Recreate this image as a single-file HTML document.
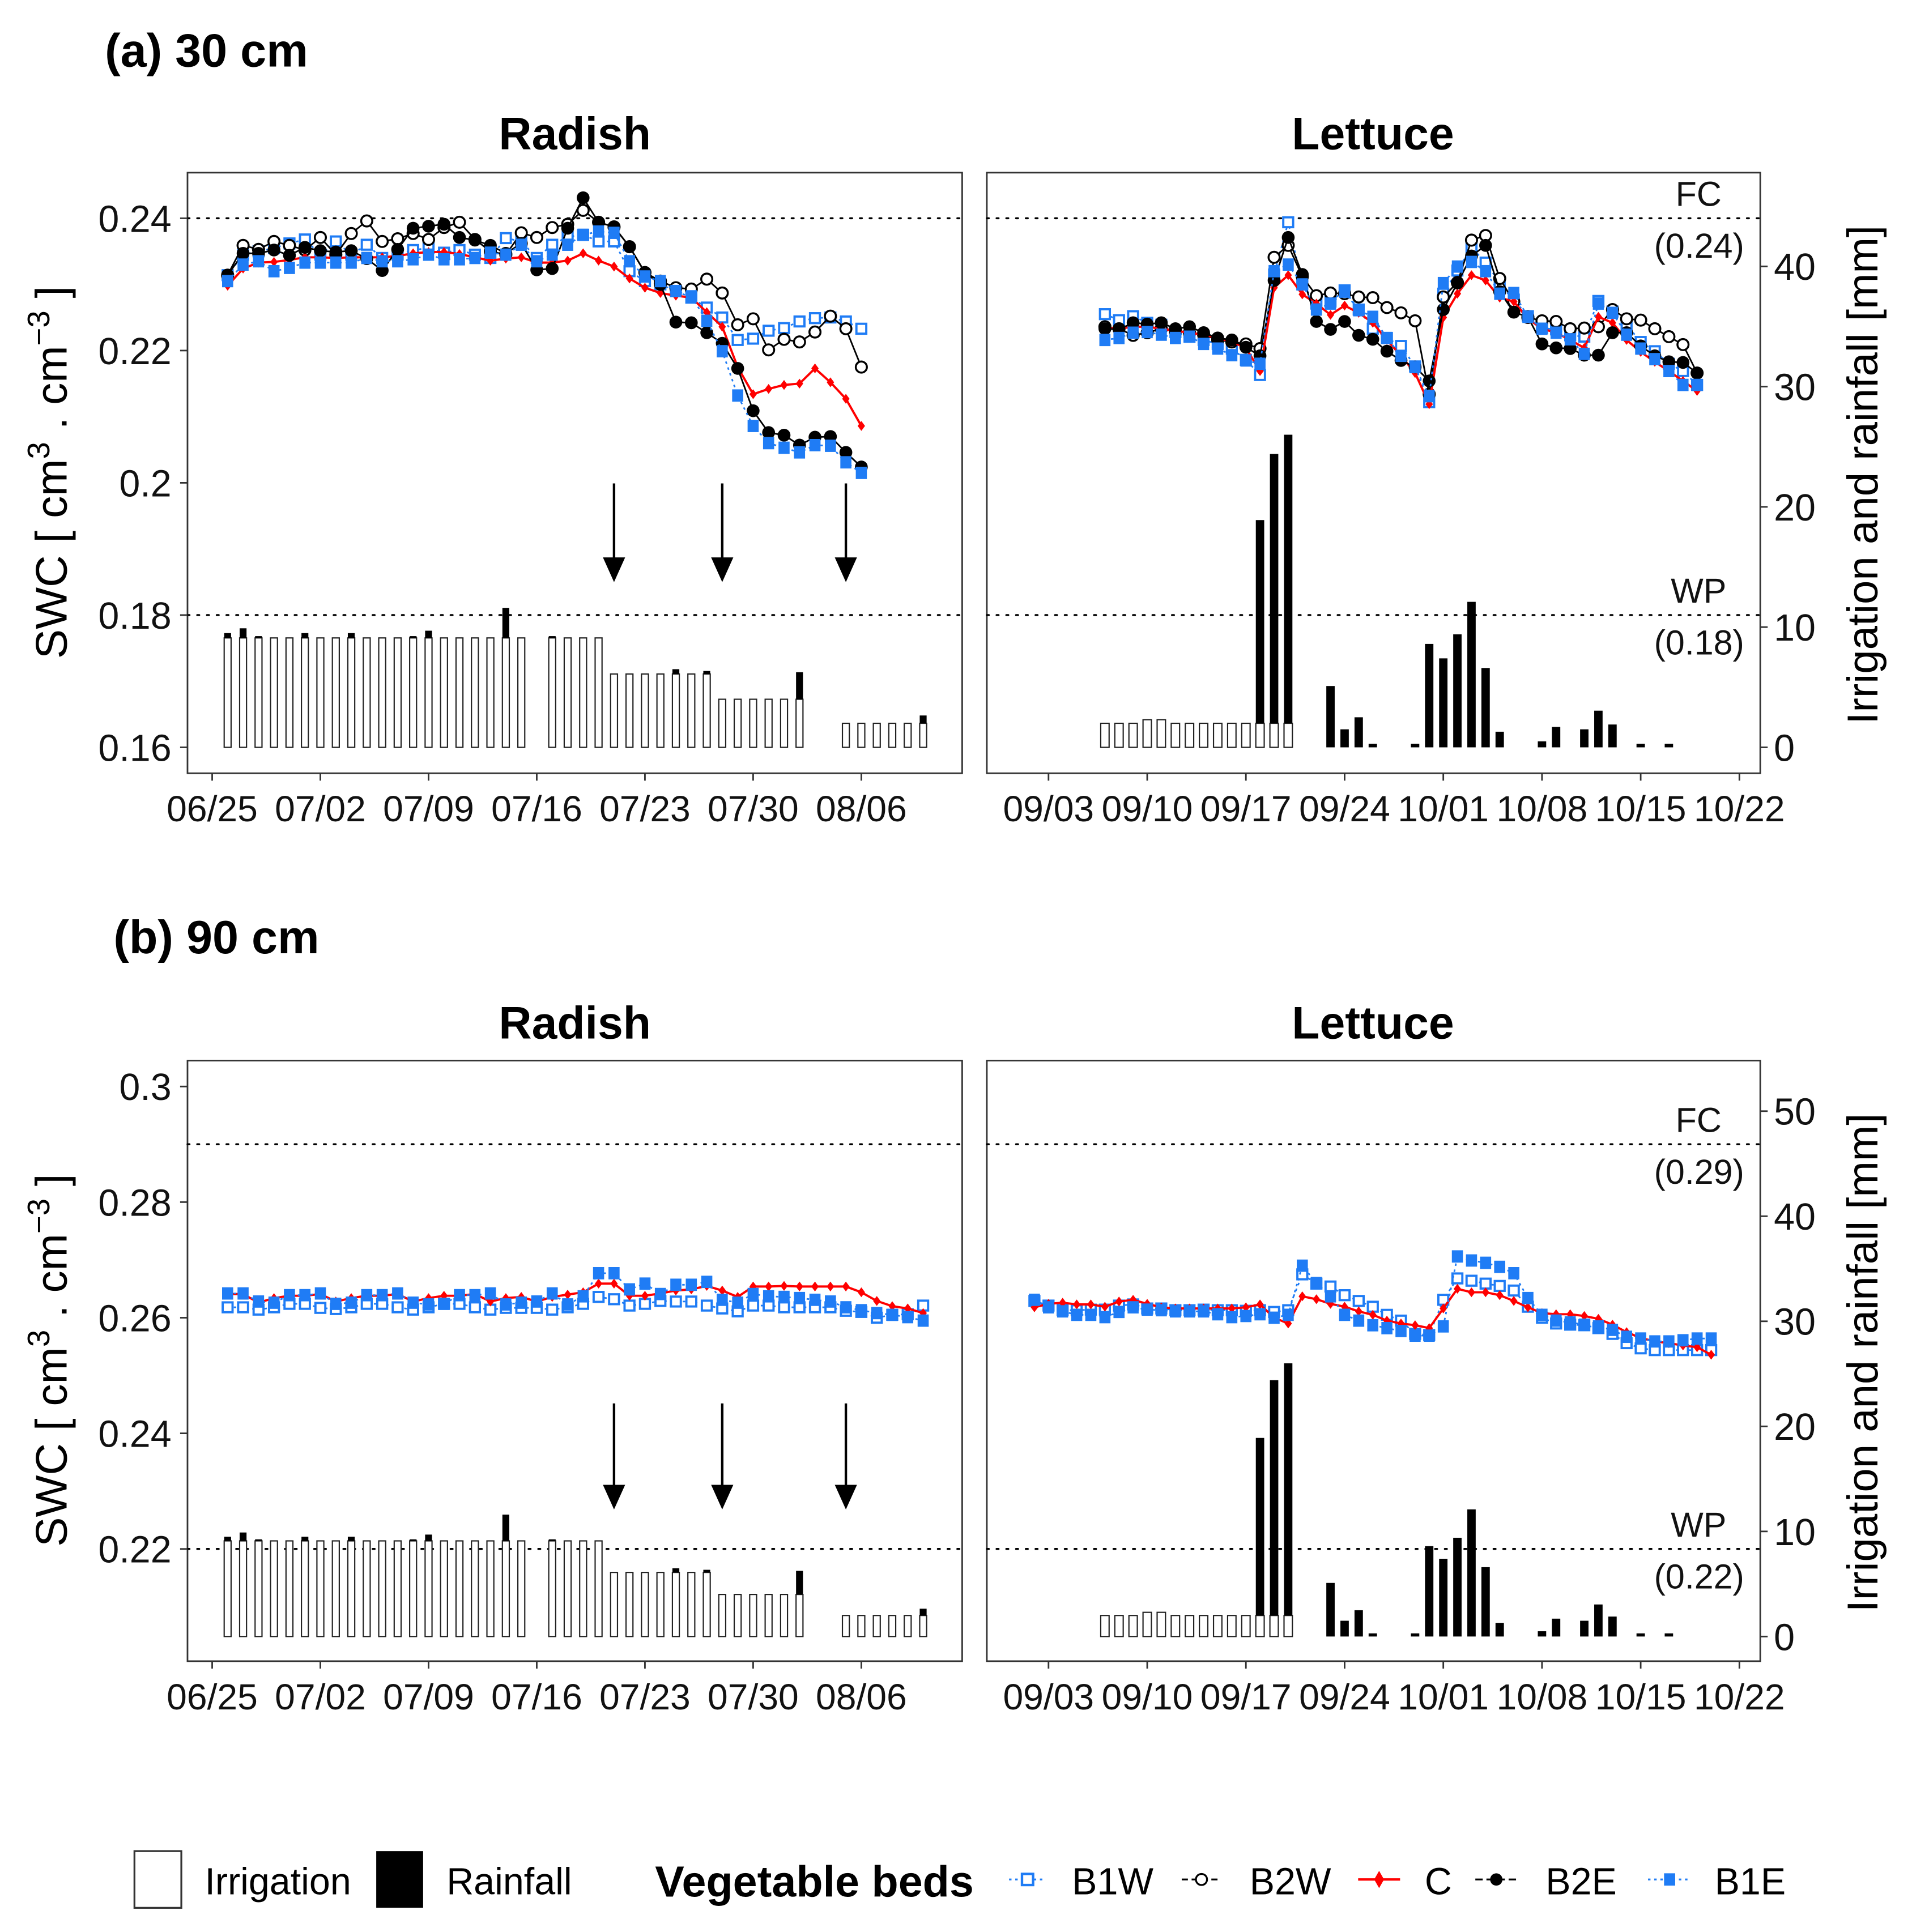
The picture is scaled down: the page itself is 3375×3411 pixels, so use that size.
<!DOCTYPE html>
<html><head><meta charset="utf-8"><style>
html,body{margin:0;padding:0;background:#fff}
svg{display:block;font-family:"Liberation Sans",Arial,sans-serif}
</style></head><body>
<svg id="chart" width="3375" height="3411" viewBox="0 0 1550 1566.6" preserveAspectRatio="none" xmlns="http://www.w3.org/2000/svg">
<rect x="0" y="0" width="1550" height="1566.6" fill="#fff"/>
<text x="85" y="54" font-size="38" font-weight="bold">(a) 30 cm</text>
<text x="92" y="773" font-size="38" font-weight="bold">(b) 90 cm</text>
<text x="466" y="121" font-size="37" font-weight="bold" text-anchor="middle">Radish</text>
<text x="1113" y="121" font-size="37" font-weight="bold" text-anchor="middle">Lettuce</text>
<text x="466" y="842" font-size="37" font-weight="bold" text-anchor="middle">Radish</text>
<text x="1113" y="842" font-size="37" font-weight="bold" text-anchor="middle">Lettuce</text>
<text transform="translate(54,383) rotate(-90)" font-size="36" text-anchor="middle">SWC [ cm<tspan dy="-14" font-size="25">3</tspan><tspan dy="14"> . cm</tspan><tspan dy="-14" font-size="25">−3</tspan><tspan dy="14"> ]</tspan></text>
<text transform="translate(54,1103) rotate(-90)" font-size="36" text-anchor="middle">SWC [ cm<tspan dy="-14" font-size="25">3</tspan><tspan dy="14"> . cm</tspan><tspan dy="-14" font-size="25">−3</tspan><tspan dy="14"> ]</tspan></text>
<text transform="translate(1522,385) rotate(-90)" font-size="35" text-anchor="middle">Irrigation and rainfall [mm]</text>
<text transform="translate(1522,1105) rotate(-90)" font-size="35" text-anchor="middle">Irrigation and rainfall [mm]</text>
<g id="plots"></g>
<g>
<rect x="109" y="1501" width="38" height="46" fill="#fff" stroke="#333" stroke-width="1.5"/>
<text x="166" y="1536" font-size="30.5">Irrigation</text>
<rect x="305" y="1501" width="38" height="46" fill="#000"/>
<text x="362" y="1536" font-size="30.5">Rainfall</text>
<text x="531" y="1538" font-size="35.5" font-weight="bold">Vegetable beds</text>
<line x1="818" y1="1524" x2="848" y2="1524" stroke="#1f7cf5" stroke-width="1.5" stroke-dasharray="2,3"/>
<rect x="828.5" y="1519.5" width="9" height="9" fill="#fff" stroke="#1f7cf5" stroke-width="2"/>
<text x="869" y="1536" font-size="30.5">B1W</text>
<line x1="958" y1="1524" x2="990" y2="1524" stroke="#000" stroke-width="1.5" stroke-dasharray="5,3"/>
<circle cx="974" cy="1524" r="4.5" fill="#fff" stroke="#000" stroke-width="1.5"/>
<text x="1013" y="1536" font-size="30.5">B2W</text>
<line x1="1101" y1="1524" x2="1135" y2="1524" stroke="#f00" stroke-width="2"/>
<path d="M1118 1517 L1122 1524 L1118 1531 L1114 1524 Z" fill="#f00"/>
<text x="1155" y="1536" font-size="30.5">C</text>
<line x1="1196" y1="1524" x2="1230" y2="1524" stroke="#000" stroke-width="1.5" stroke-dasharray="6,3"/>
<circle cx="1213" cy="1524" r="5" fill="#000"/>
<text x="1253" y="1536" font-size="30.5">B2E</text>
<line x1="1336" y1="1524" x2="1370" y2="1524" stroke="#1f7cf5" stroke-width="1.5" stroke-dasharray="2,3"/>
<rect x="1349" y="1519" width="9" height="10" fill="#1f7cf5"/>
<text x="1390" y="1536" font-size="30.5">B1E</text>
</g>
</svg>
<script>
// ---------- DATA ----------
const radTickLabels = ["06/25","07/02","07/09","07/16","07/23","07/30","08/06"];
const letTickLabels = ["09/03","09/10","09/17","09/24","10/01","10/08","10/15","10/22"];
const tickA_left = [0.16,0.18,0.2,0.22,0.24];
const tickA_leftLabels = ["0.16","0.18","0.2","0.22","0.24"];
const tickB_left = [0.22,0.24,0.26,0.28,0.3];
const tickB_leftLabels = ["0.22","0.24","0.26","0.28","0.3"];
const tickA_right = [0,10,20,30,40];
const tickB_right = [0,10,20,30,40,50];

const radA_firstDay = 1;
const radA_B1W = [0.2314,0.2345,0.2350,0.2355,0.2362,0.2368,0.2345,0.2365,0.2345,0.2360,0.2340,0.2345,0.2352,0.2355,0.2348,0.2352,0.2345,0.2340,0.2370,0.2365,0.2340,0.2360,0.2372,0.2375,0.2365,0.2365,0.2320,0.2305,0.2300,0.2290,0.2280,0.2265,0.2250,0.2216,0.2218,0.2230,0.2234,0.2244,0.2249,0.2250,0.2244,0.2233];
const radA_B2W = [0.2314,0.2359,0.2353,0.2365,0.2359,0.2352,0.2371,0.2345,0.2377,0.2396,0.2365,0.2369,0.2377,0.2368,0.2386,0.2394,0.2368,0.2350,0.2345,0.2378,0.2371,0.2386,0.2391,0.2412,0.2394,0.2387,0.2357,0.2318,0.2305,0.2295,0.2293,0.2308,0.2287,0.2239,0.2248,0.2201,0.2217,0.2213,0.2228,0.2252,0.2233,0.2175];
const radA_C = [0.2298,0.2324,0.2333,0.2334,0.2337,0.2341,0.2341,0.2340,0.2341,0.2341,0.2341,0.2343,0.2347,0.2349,0.2349,0.2346,0.2341,0.2336,0.2339,0.2341,0.2333,0.2333,0.2336,0.2347,0.2336,0.2327,0.2309,0.2295,0.2287,0.2283,0.2280,0.2258,0.2236,0.2175,0.2134,0.2142,0.2148,0.2150,0.2173,0.2152,0.2127,0.2086];
const radA_B2E = [0.2314,0.2347,0.2347,0.2352,0.2344,0.2356,0.2351,0.2349,0.2351,0.2339,0.2321,0.2353,0.2385,0.2388,0.2391,0.2371,0.2367,0.2359,0.2347,0.2362,0.2322,0.2324,0.2385,0.2431,0.2394,0.2387,0.2357,0.2318,0.2300,0.2243,0.2242,0.2227,0.2211,0.2173,0.2109,0.2076,0.2072,0.2057,0.2069,0.2070,0.2046,0.2024];
const radA_B1E = [0.2305,0.2330,0.2335,0.2320,0.2325,0.2333,0.2333,0.2333,0.2333,0.2340,0.2335,0.2335,0.2338,0.2345,0.2338,0.2338,0.2340,0.2348,0.2345,0.2360,0.2335,0.2345,0.2360,0.2375,0.2380,0.2378,0.2335,0.2312,0.2305,0.2290,0.2282,0.2245,0.2199,0.2132,0.2086,0.2060,0.2053,0.2046,0.2057,0.2056,0.2031,0.2015];

const letA_firstDay = 4;
const letA_B1W = [0.2255,0.2246,0.2252,0.2242,0.2239,0.2228,0.2221,0.2216,0.2210,0.2203,0.2186,0.2163,0.2315,0.2394,0.2300,0.2271,0.2274,0.2291,0.2262,0.2233,0.2219,0.2207,0.2176,0.2122,0.2286,0.2321,0.2356,0.2333,0.2303,0.2277,0.2252,0.2234,0.2232,0.2223,0.2221,0.2275,0.2259,0.2239,0.2213,0.2199,0.2180,0.2169,0.2148];
const letA_B2W = [0.2236,0.2233,0.2223,0.2227,0.2233,0.2230,0.2227,0.2224,0.2216,0.2213,0.2210,0.2203,0.2341,0.2359,0.2312,0.2283,0.2287,0.2286,0.2281,0.2280,0.2265,0.2257,0.2245,0.2134,0.2281,0.2303,0.2367,0.2374,0.2309,0.2274,0.2250,0.2245,0.2244,0.2233,0.2234,0.2236,0.2262,0.2248,0.2246,0.2233,0.2221,0.2209,0.2166];
const letA_C = [0.2234,0.2233,0.2236,0.2236,0.2233,0.2230,0.2227,0.2224,0.2219,0.2213,0.2204,0.2169,0.2295,0.2314,0.2285,0.2271,0.2254,0.2268,0.2257,0.2242,0.2216,0.2192,0.2166,0.2119,0.2250,0.2286,0.2314,0.2306,0.2280,0.2274,0.2248,0.2233,0.2227,0.2216,0.2204,0.2251,0.2242,0.2216,0.2198,0.2183,0.2169,0.2154,0.2139];
const letA_B2E = [0.2233,0.2232,0.2242,0.2240,0.2242,0.2233,0.2236,0.2227,0.2219,0.2216,0.2205,0.2192,0.2306,0.2371,0.2315,0.2244,0.2232,0.2244,0.2223,0.2217,0.2199,0.2185,0.2175,0.2154,0.2262,0.2302,0.2343,0.2359,0.2289,0.2258,0.2251,0.2210,0.2204,0.2203,0.2193,0.2193,0.2227,0.2227,0.2207,0.2192,0.2183,0.2182,0.2166];
const letA_B1E = [0.2216,0.2219,0.2227,0.2228,0.2224,0.2219,0.2221,0.2210,0.2203,0.2193,0.2185,0.2180,0.2320,0.2330,0.2300,0.2262,0.2271,0.2289,0.2261,0.2251,0.2219,0.2192,0.2175,0.2131,0.2302,0.2327,0.2334,0.2320,0.2286,0.2287,0.2251,0.2233,0.2227,0.2217,0.2195,0.2271,0.2257,0.2224,0.2203,0.2187,0.2169,0.2148,0.2148];

const radB_firstDay = 1;
const radB_B1W = [0.2618,0.2618,0.2614,0.2618,0.2624,0.2624,0.2617,0.2615,0.2618,0.2624,0.2624,0.2618,0.2614,0.2618,0.2624,0.2624,0.2618,0.2614,0.2617,0.2617,0.2617,0.2614,0.2618,0.2624,0.2636,0.2632,0.2621,0.2624,0.2629,0.2628,0.2628,0.2621,0.2616,0.2611,0.2621,0.2621,0.2618,0.2618,0.2618,0.2618,0.2612,0.2610,0.2600,0.2605,0.2606,0.2621];
const radB_C = [0.2641,0.2641,0.2626,0.2634,0.2638,0.2638,0.2641,0.2628,0.2634,0.2638,0.2638,0.2641,0.2628,0.2634,0.2638,0.2638,0.2641,0.2628,0.2634,0.2636,0.2628,0.2636,0.2640,0.2644,0.2659,0.2659,0.2638,0.2638,0.2642,0.2647,0.2649,0.2655,0.2647,0.2636,0.2654,0.2654,0.2655,0.2654,0.2654,0.2654,0.2654,0.2644,0.2629,0.2620,0.2616,0.2608];
const radB_B1E = [0.2642,0.2642,0.2628,0.2626,0.2639,0.2639,0.2642,0.2624,0.2626,0.2639,0.2639,0.2642,0.2626,0.2623,0.2624,0.2639,0.2639,0.2642,0.2623,0.2626,0.2628,0.2642,0.2623,0.2637,0.2677,0.2677,0.2649,0.2659,0.2641,0.2657,0.2657,0.2662,0.2631,0.2626,0.2641,0.2637,0.2636,0.2634,0.2631,0.2628,0.2618,0.2613,0.2608,0.2605,0.2601,0.2595];

const letB_firstDay = -1;
const letB_B1W = [0.2629,0.2621,0.2613,0.2613,0.2614,0.2614,0.2621,0.2623,0.2616,0.2616,0.2613,0.2613,0.2614,0.2613,0.2613,0.2612,0.2613,0.2610,0.2613,0.2675,0.2659,0.2654,0.2639,0.2629,0.2619,0.2605,0.2595,0.2572,0.2570,0.2631,0.2668,0.2664,0.2659,0.2655,0.2647,0.2619,0.2600,0.2590,0.2588,0.2587,0.2582,0.2572,0.2556,0.2547,0.2544,0.2544,0.2544,0.2544,0.2544];
const letB_C = [0.2618,0.2624,0.2626,0.2623,0.2623,0.2619,0.2628,0.2631,0.2624,0.2618,0.2616,0.2616,0.2616,0.2616,0.2616,0.2618,0.2623,0.2600,0.2590,0.2637,0.2632,0.2624,0.2619,0.2611,0.2605,0.2595,0.2590,0.2587,0.2582,0.2616,0.2650,0.2644,0.2644,0.2639,0.2629,0.2618,0.2608,0.2606,0.2606,0.2603,0.2598,0.2588,0.2575,0.2565,0.2559,0.2556,0.2552,0.2549,0.2536];
const letB_B1E = [0.2631,0.2618,0.2611,0.2605,0.2605,0.2601,0.2610,0.2618,0.2614,0.2613,0.2611,0.2611,0.2611,0.2606,0.2601,0.2603,0.2606,0.2600,0.2605,0.2690,0.2660,0.2637,0.2605,0.2595,0.2587,0.2582,0.2577,0.2569,0.2569,0.2585,0.2706,0.2699,0.2695,0.2688,0.2677,0.2634,0.2605,0.2595,0.2592,0.2588,0.2585,0.2579,0.2567,0.2564,0.2559,0.2559,0.2561,0.2564,0.2564];

const radIrrDays = [1,2,3,4,5,6,7,8,9,10,11,12,13,14,15,16,17,18,19,20,22,23,24,25,26,27,28,29,30,31,32,33,34,35,36,37,38,41,42,43,44,45,46];
const radIrrVals = [9.1,9.1,9.1,9.1,9.1,9.1,9.1,9.1,9.1,9.1,9.1,9.1,9.1,9.1,9.1,9.1,9.1,9.1,9.1,9.1,9.1,9.1,9.1,9.1,6.1,6.1,6.1,6.1,6.1,6.1,6.1,4.0,4.0,4.0,4.0,4.0,4.0,2.0,2.0,2.0,2.0,2.0,2.0];
const radRainDays = [1,2,3,6,9,13,14,19,22,30,32,38,46];
const radRainVals = [0.4,0.8,0.15,0.4,0.4,0.15,0.6,2.5,0.15,0.4,0.25,2.25,0.65];
const letIrrDays = [4,5,6,7,8,9,10,11,12,13,14,15,16,17];
const letIrrVals = [2.0,2.0,2.0,2.3,2.3,2.0,2.0,2.0,2.0,2.0,2.0,2.0,2.0,2.0];
const letRainDays = [15,16,17,20,21,22,23,26,27,28,29,30,31,32,35,36,38,39,40,42,44];
const letRainVals = [16.9,22.4,24.0,5.1,1.5,2.5,0.3,0.3,8.6,7.4,9.4,12.1,6.6,1.3,0.5,1.7,1.5,3.05,1.9,0.3,0.3];
const arrowDays = [26,33,41];

// ---------- DRAWING ----------
const NS = "http://www.w3.org/2000/svg";
const root = document.getElementById("plots");
function mk(tag, attrs, parent) {
  const e = document.createElementNS(NS, tag);
  for (const k in attrs) e.setAttribute(k, attrs[k]);
  (parent || root).appendChild(e);
  return e;
}
const BLUE = "#1f7cf5";

function panel(p) {
  const g = mk("g", {});
  
  
  const X = d => p.x0 + d * p.dx;
  const Y = v => p.yRef + (p.vRef - v) * p.yPer;
  const M = mm => p.mm0 - mm * p.mmPer;
  const fr = mk("rect", {x:p.L, y:p.T, width:p.R-p.L, height:p.B-p.T, fill:"#fff", stroke:"#333", "stroke-width":1.3}, g);
  
  
  p.refs.forEach(v => {
    const l = mk("line", {x1:p.L, x2:p.R, y1:Y(v), y2:Y(v), stroke:"#000", "stroke-width":1.6, "stroke-dasharray":"1.6,6.3", "stroke-linecap":"round"}, g);
    
    
  });
  p.irrDays.forEach((d, i) => {
    const r = mk("rect", {x:X(d)-p.bw/2, y:M(p.irrVals[i]), width:p.bw, height:M(0)-M(p.irrVals[i]), fill:"#fff", stroke:"#222", "stroke-width":1}, g);
    
    
  });
  p.rainDays.forEach((d, i) => {
    const j = p.irrDays.indexOf(d);
    const base = j >= 0 ? p.irrVals[j] : 0;
    const v = p.rainVals[i];
    const r = mk("rect", {x:X(d)-p.bw/2, y:M(base+v), width:p.bw, height:M(base)-M(base+v), fill:"#000"}, g);
    
    
  });
  (p.arrows || []).forEach(d => {
    const ax = X(d);
    const l = mk("line", {x1:ax, x2:ax, y1:p.arrowTop, y2:p.arrowBot-18, stroke:"#000", "stroke-width":2}, g);
    
    
    const h = mk("path", {d:`M${ax-9} ${p.arrowBot-20} L${ax+9} ${p.arrowBot-20} L${ax} ${p.arrowBot} Z`, fill:"#000"}, g);
    
    
  });
  p.series.forEach(s => {
    const pts = s.vals.map((v, i) => [X(p.first + i), Y(v)]);
    const pl = mk("polyline", {points: pts.map(q => q.join(",")).join(" "), fill:"none", stroke:s.color, "stroke-width":s.lw, "stroke-dasharray":s.dash || "none"}, g);
    
    
    pts.forEach(q => {
      let m;
      if (s.shape === "osq") m = mk("rect", {x:q[0]-4, y:q[1]-4, width:8, height:8, fill:"#fff", stroke:BLUE, "stroke-width":1.8}, g);
      else if (s.shape === "fsq") m = mk("rect", {x:q[0]-4.5, y:q[1]-5, width:9, height:10, fill:BLUE}, g);
      else if (s.shape === "oc") m = mk("circle", {cx:q[0], cy:q[1], r:4.5, fill:"#fff", stroke:"#000", "stroke-width":1.6}, g);
      else if (s.shape === "fc") m = mk("circle", {cx:q[0], cy:q[1], r:5.2, fill:"#000"}, g);
      else m = mk("path", {d:`M${q[0]} ${q[1]-4} L${q[0]+3} ${q[1]} L${q[0]} ${q[1]+4} L${q[0]-3} ${q[1]} Z`, fill:"#f00"}, g);
      
      
    });
  });
  p.xTickLabels.forEach((lab, i) => {
    const tx = X(i * 7);
    const t = mk("line", {x1:tx, x2:tx, y1:p.B, y2:p.B+6, stroke:"#333", "stroke-width":1.3}, g);
    
    
    const tt = mk("text", {x:tx, y:p.B+39, "font-size":29.5, "text-anchor":"middle", fill:"#111"}, g);
    tt.textContent = lab;
    
    
  });
  if (p.leftTicks) p.leftTicks.forEach((v, i) => {
    const t = mk("line", {x1:p.L-6, x2:p.L, y1:Y(v), y2:Y(v), stroke:"#333", "stroke-width":1.3}, g);
    
    
    const tt = mk("text", {x:p.L-13, y:Y(v)+11, "font-size":30.5, "text-anchor":"end", fill:"#111"}, g);
    tt.textContent = p.leftLabels[i];
    
    
  });
  if (p.rightTicks) p.rightTicks.forEach(v => {
    const t = mk("line", {x1:p.R, x2:p.R+6, y1:M(v), y2:M(v), stroke:"#333", "stroke-width":1.3}, g);
    
    
    const tt = mk("text", {x:p.R+11, y:M(v)+11, "font-size":30.5, fill:"#111"}, g);
    tt.textContent = String(v);
    
    
  });
  if (p.refLabels) p.refLabels.forEach((r, i) => {
    const v = p.refs[i];
    const a = mk("text", {x:1377, y:Y(v)-10, "font-size":28, "text-anchor":"middle", fill:"#111"}, g);
    a.textContent = r[0];
    
    
    const b = mk("text", {x:1414, y:Y(v)+32, "font-size":28, "text-anchor":"end", fill:"#111"}, g);
    b.textContent = r[1];
    
    
  });
}

const radGeom = {L:152, R:780, x0:172, dx:12.53, xTickLabels:radTickLabels, bw:5.6,
  irrDays:radIrrDays, irrVals:radIrrVals, rainDays:radRainDays, rainVals:radRainVals, arrows:arrowDays};
const letGeom = {L:800, R:1427, x0:850, dx:11.43, xTickLabels:letTickLabels, bw:6.8,
  irrDays:letIrrDays, irrVals:letIrrVals, rainDays:letRainDays, rainVals:letRainVals};
const aY = {T:140, B:627, yRef:177, vRef:0.24, yPer:107.25/0.02, mm0:606, mmPer:9.75, refs:[0.24,0.18], arrowTop:392, arrowBot:472};
const bY = {T:860, B:1347, yRef:881, vRef:0.30, yPer:93.75/0.02, mm0:1327, mmPer:8.52, refs:[0.29,0.22], arrowTop:1138, arrowBot:1224};

function sA(B1W,B2W,C,B2E,B1E){return [
  {key:"b1w", vals:B1W, color:BLUE, lw:1.3, dash:"2,3", shape:"osq"},
  {key:"b2w", vals:B2W, color:"#000", lw:1.3, shape:"oc"},
  {key:"c", vals:C, color:"#f00", lw:1.8, shape:"dia"},
  {key:"b2e", vals:B2E, color:"#000", lw:1.3, shape:"fc"},
  {key:"b1e", vals:B1E, color:BLUE, lw:1.3, dash:"2,3", shape:"fsq"}];}
function sB(B1W,C,B1E){return [
  {key:"b1w", vals:B1W, color:BLUE, lw:1.3, dash:"2,3", shape:"osq"},
  {key:"c", vals:C, color:"#f00", lw:1.8, shape:"dia"},
  {key:"b1e", vals:B1E, color:BLUE, lw:1.3, dash:"2,3", shape:"fsq"}];}

panel(Object.assign({name:"radish-30cm-panel", first:radA_firstDay, series:sA(radA_B1W,radA_B2W,radA_C,radA_B2E,radA_B1E), leftTicks:tickA_left, leftLabels:tickA_leftLabels}, radGeom, aY));
panel(Object.assign({name:"lettuce-30cm-panel", first:letA_firstDay, series:sA(letA_B1W,letA_B2W,letA_C,letA_B2E,letA_B1E), rightTicks:tickA_right, refLabels:[["FC","(0.24)"],["WP","(0.18)"]]}, letGeom, aY));
panel(Object.assign({name:"radish-90cm-panel", first:radB_firstDay, series:sB(radB_B1W,radB_C,radB_B1E), leftTicks:tickB_left, leftLabels:tickB_leftLabels}, radGeom, bY));
panel(Object.assign({name:"lettuce-90cm-panel", first:letB_firstDay, series:sB(letB_B1W,letB_C,letB_B1E), rightTicks:tickB_right, refLabels:[["FC","(0.29)"],["WP","(0.22)"]]}, letGeom, bY));
</script>
</body></html>
